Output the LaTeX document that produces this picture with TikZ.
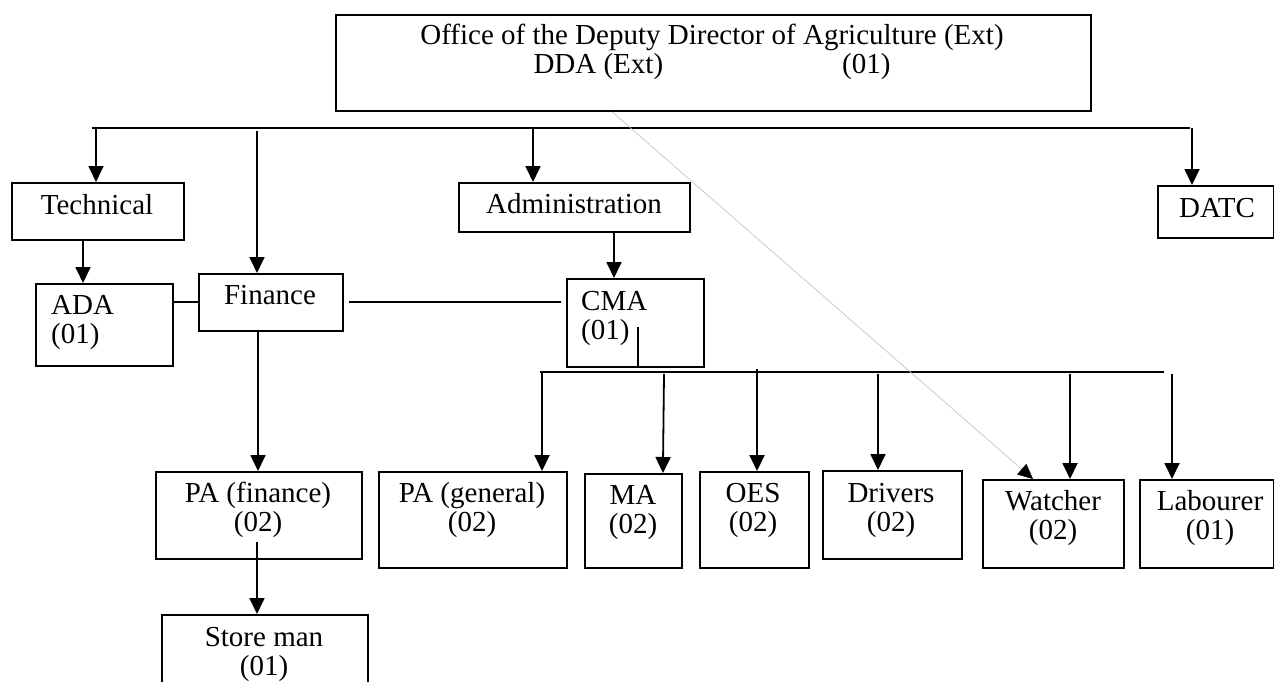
\documentclass[tikz,border=0pt]{standalone}
\usepackage{fontspec}
\setmainfont{Liberation Serif}
\usetikzlibrary{arrows.meta,calc}
\begin{document}
\begin{tikzpicture}[x=1pt,y=-1pt,
  box/.style={draw, line width=1.8pt, inner sep=0pt, anchor=north west},
  lbl/.style={inner sep=0pt, anchor=base, font=\fontsize{29}{29}\selectfont},
  lbll/.style={lbl, anchor=base west},
  ln/.style={line width=1.8pt},
  arr/.style={ln, -{Triangle[length=16pt,width=15pt]}},
  faint/.style={draw=black!25, line width=0.6pt, -{Triangle[length=15pt,width=14pt,color=black]}}]
\useasboundingbox (0,0) rectangle (1274,682);
\clip (0,0) rectangle (1274,682);

% boxes
\node[box, minimum width=755, minimum height=96] (top) at (335,14) {};
\node[box, minimum width=172, minimum height=57] (tech) at (11,182) {};
\node[box, minimum width=137, minimum height=82] (ada) at (35,283) {};
\node[box, minimum width=144, minimum height=57] (fin) at (198,273) {};
\node[box, minimum width=231, minimum height=49] (adm) at (458,182) {};
\node[box, minimum width=137, minimum height=88] (cma) at (566,278) {};
\node[box, minimum width=116, minimum height=52] (datc) at (1157,185) {};
\node[box, minimum width=206, minimum height=87] (paf) at (155,471) {};
\node[box, minimum width=206, minimum height=80] (store) at (161,614) {};
\node[box, minimum width=188, minimum height=96] (pag) at (378,471) {};
\node[box, minimum width=97, minimum height=94] (ma) at (584,473) {};
\node[box, minimum width=109, minimum height=96] (oes) at (699,471) {};
\node[box, minimum width=139, minimum height=88] (drv) at (822,470) {};
\node[box, minimum width=141, minimum height=88] (wat) at (982,479) {};
\node[box, minimum width=134, minimum height=88] (lab) at (1139,479) {};

% labels
\node[lbl] (t1) at (712,45) {Office of the Deputy Director of Agriculture (Ext)};
\node[lbl] (t2) at (712,74) {DDA (Ext)\hspace{179pt}(01)};
\node[lbl] (ttech) at (97,214) {Technical};
\node[lbll] (tada1) at (51,314) {ADA};
\node[lbll] (tada2) at (51,343) {(01)};
\node[lbl] (tfin) at (270,304) {Finance};
\node[lbl] (tadm) at (574,213) {Administration};
\node[lbll] (tcma1) at (581,310) {CMA};
\node[lbll] (tcma2) at (581,339) {(01)};
\node[lbl] (tdatc) at (1217,217) {DATC};
\node[lbl] (tpaf1) at (258,502) {PA (finance)};
\node[lbl] (tpaf2) at (258,531) {(02)};
\node[lbl] (tst1) at (264,646) {Store man};
\node[lbl] (tst2) at (264,675) {(01)};
\node[lbl] (tpag1) at (472,502) {PA (general)};
\node[lbl] (tpag2) at (472,531) {(02)};
\node[lbl] (tma1) at (633,504) {MA};
\node[lbl] (tma2) at (633,533) {(02)};
\node[lbl] (toes1) at (753,502) {OES};
\node[lbl] (toes2) at (753,531) {(02)};
\node[lbl] (tdrv1) at (891,502) {Drivers};
\node[lbl] (tdrv2) at (891,531) {(02)};
\node[lbl] (twat1) at (1053,510) {Watcher};
\node[lbl] (twat2) at (1053,539) {(02)};
\node[lbl] (tlab1) at (1210,510) {Labourer};
\node[lbl] (tlab2) at (1210,539) {(01)};

% upper bus and its branches
\coordinate (busL) at (92,128);
\coordinate (busR) at (1190,128);
\draw[ln] (busL) -- (busR);
\coordinate (bT) at (96,128);
\coordinate (bF) at (257,131);
\coordinate (bA) at (533,128);
\coordinate (bD) at (1192,128);
\draw[arr] (bT) -- (bT |- tech.north);
\draw[arr] (bF) -- (bF |- fin.north);
\draw[arr] (bA) -- (bA |- adm.north);
\draw[arr] (bD) -- (bD |- datc.north);

% technical and administration wings
\coordinate (xTA) at (83,0);
\draw[arr] (tech.south -| xTA) -- (ada.north -| xTA);
\coordinate (xAC) at (614,0);
\draw[arr] (adm.south -| xAC) -- (cma.north -| xAC);
\coordinate (yF) at (0,302);
\draw[ln] (ada.east |- yF) -- (fin.west |- yF);
\draw[ln, shorten <=5pt, shorten >=5pt] (fin.east |- yF) -- (cma.west |- yF);

% finance wing
\coordinate (xF) at (258,0);
\draw[arr] (fin.south -| xF) -- (paf.north -| xF);
\coordinate (pfIn) at (257,542);
\draw[arr] (pfIn) -- (pfIn |- store.north);

% lower bus under CMA
\coordinate (cmIn) at (638,327);
\draw[ln] (cmIn) -- (cmIn |- cma.south);
\coordinate (bus2L) at (540,372);
\coordinate (bus2R) at (1164,372);
\draw[ln] (bus2L) -- (bus2R);
\coordinate (dPG) at (542,373);
\coordinate (dMA) at (664,374);
\coordinate (dOE) at (757,369);
\coordinate (dDR) at (878,374);
\coordinate (dWA) at (1070,374);
\coordinate (dLA) at (1172,374);
\draw[arr] (dPG) -- (dPG |- pag.north);
\draw[arr] (dMA) -- ($(ma.north)+(29.5,0)$);
\draw[arr] (dOE) -- (dOE |- oes.north);
\draw[arr] (dDR) -- (dDR |- drv.north);
\draw[arr] (dWA) -- (dWA |- wat.north);
\draw[arr] (dLA) -- (dLA |- lab.north);

% faint diagonal from the office to the watcher
\coordinate (xs) at (612,0);
\coordinate (xe) at (1033,0);
\draw[faint] (top.south -| xs) -- (wat.north -| xe);
\end{tikzpicture}
\end{document}
